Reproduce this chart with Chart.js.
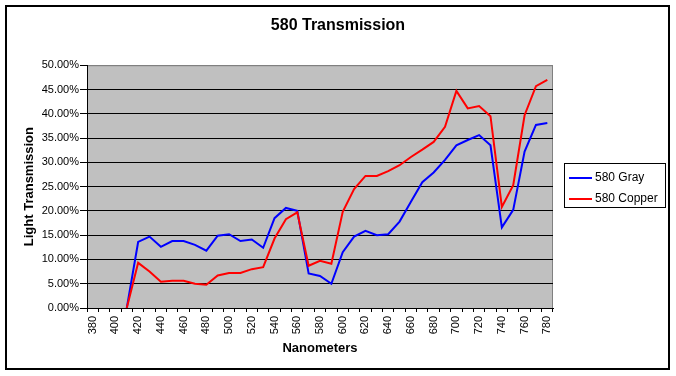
<!DOCTYPE html>
<html>
<head>
<meta charset="utf-8">
<script src="https://cdn.jsdelivr.net/npm/chart.js@4/dist/chart.umd.min.js"></script>
<style>
  html, body { margin: 0; padding: 0; background: #fff; }
  #wrap { width: 676px; height: 376px; }
</style>
</head>
<body>
<div id="wrap"><canvas id="c" width="676" height="376"></canvas></div>
<script>
// Wavelengths, every 10 nm; only every other one gets a label
const nanometers = [380, 390, 400, 410, 420, 430, 440, 450, 460, 470, 480, 490, 500, 510, 520, 530, 540, 550, 560, 570, 580,
  590, 600, 610, 620, 630, 640, 650, 660, 670, 680, 690, 700, 710, 720, 730, 740, 750, 760, 770, 780]

const gray = [null, null, null, 0, 0.136, 0.147, 0.126, 0.138, 0.138, 0.130, 0.118, 0.149, 0.152, 0.138, 0.141, 0.124, 0.185, 0.206, 0.200, 0.071, 0.066,
  0.050, 0.115, 0.147, 0.159, 0.150, 0.152, 0.178, 0.219, 0.259, 0.279, 0.305, 0.335, 0.346, 0.356, 0.335, 0.166, 0.202, 0.322, 0.377, 0.381]
const copper = [null, null, null, 0, 0.093, 0.075, 0.054, 0.056, 0.056, 0.050, 0.048, 0.067, 0.072, 0.072, 0.080, 0.084, 0.143, 0.183, 0.197, 0.087, 0.097,
  0.091, 0.198, 0.245, 0.272, 0.272, 0.282, 0.294, 0.311, 0.326, 0.342, 0.373, 0.447, 0.411, 0.416, 0.395, 0.208, 0.253, 0.397, 0.457, 0.470]

const FONT = "'Liberation Sans', Arial, sans-serif"

// Grey plot area, outer frame and the boxed legend Excel draws
const excelFrame = {
  id: 'excelFrame',
  beforeDraw(chart) {
    const { ctx, chartArea: a } = chart
    ctx.save()
    ctx.fillStyle = '#fff'
    ctx.fillRect(0, 0, chart.width, chart.height)
    ctx.fillStyle = '#c0c0c0'
    ctx.fillRect(a.left, a.top, a.right - a.left, a.bottom - a.top)
    ctx.strokeStyle = '#808080'
    ctx.lineWidth = 1
    ctx.strokeRect(a.left + 0.5, a.top + 0.5, a.right - a.left - 1, a.bottom - a.top)
    ctx.restore()
  },
  afterDraw(chart) {
    const { ctx } = chart
    ctx.save()
    ctx.strokeStyle = '#000'
    ctx.lineWidth = 2
    ctx.strokeRect(6, 6, 663, 363)

    // legend
    ctx.lineWidth = 1
    ctx.strokeRect(564.5, 163.5, 101, 44)
    ctx.font = '12px ' + FONT
    ctx.textBaseline = 'middle'
    ctx.fillStyle = '#000'
    chart.data.datasets.forEach((ds, i) => {
      const y = 178 + i * 21
      ctx.strokeStyle = ds.borderColor
      ctx.lineWidth = 2
      ctx.beginPath()
      ctx.moveTo(569, y)
      ctx.lineTo(592, y)
      ctx.stroke()
      ctx.fillText(ds.label, 595, y)
    })
    ctx.restore()
  }
}

new Chart(document.getElementById('c'), {
  type: 'line',
  data: {
    labels: nanometers,
    datasets: [
      { label: '580 Gray', data: gray, borderColor: '#0000ff', borderWidth: 2, pointRadius: 0, tension: 0, order: 1 },
      { label: '580 Copper', data: copper, borderColor: '#ff0000', borderWidth: 2, pointRadius: 0, tension: 0, order: 0 }
    ]
  },
  options: {
    responsive: false,
    animation: false,
    layout: { padding: 0 },
    plugins: {
      legend: { display: false },
      tooltip: { enabled: false },
      title: {
        display: true,
        text: '580 Transmission',
        color: '#000',
        font: { family: FONT, size: 16, weight: 'bold', lineHeight: 1.2 },
        padding: { top: 16, bottom: 30 }
      }
    },
    scales: {
      x: {
        type: 'category',
        offset: true,
        grid: { offset: true, drawOnChartArea: false, drawTicks: true, tickLength: 4, color: '#000' },
        border: { color: '#000', width: 1 },
        ticks: {
          autoSkip: false, minRotation: 90, maxRotation: 90, padding: 4, color: '#000',
          font: { family: FONT, size: 11 },
          callback: (v, i) => (i % 2 === 0 ? nanometers[i] : '')
        },
        title: {
          display: true, text: 'Nanometers', color: '#000',
          font: { family: FONT, size: 13, weight: 'bold', lineHeight: 1.2 },
          padding: { top: 0, bottom: 20 }
        },
        afterFit: s => { s.height = 68 }
      },
      y: {
        min: 0, max: 0.5,
        grid: {
          color: ctx => (ctx.tick && ctx.tick.value >= 0.5 ? '#808080' : '#000'),
          tickColor: '#000', tickLength: 7, lineWidth: 1
        },
        border: { color: '#000', width: 1 },
        ticks: {
          stepSize: 0.05, padding: 1, color: '#000',
          font: { family: FONT, size: 11 },
          callback: v => (v * 100).toFixed(2) + '%'
        },
        title: {
          display: true, text: 'Light Transmission', color: '#000',
          font: { family: FONT, size: 13, weight: 'bold', lineHeight: 1.2 },
          padding: { top: 22, bottom: 0 }
        },
        afterFit: s => { s.width = 87 }
      },
      // empty right-hand box that reserves room for the legend
      side: {
        position: 'right',
        display: true,
        grid: { display: false, drawTicks: false },
        border: { display: false },
        ticks: { display: false },
        afterFit: s => { s.width = 123 }
      }
    }
  },
  plugins: [excelFrame]
})
</script>
</body>
</html>
